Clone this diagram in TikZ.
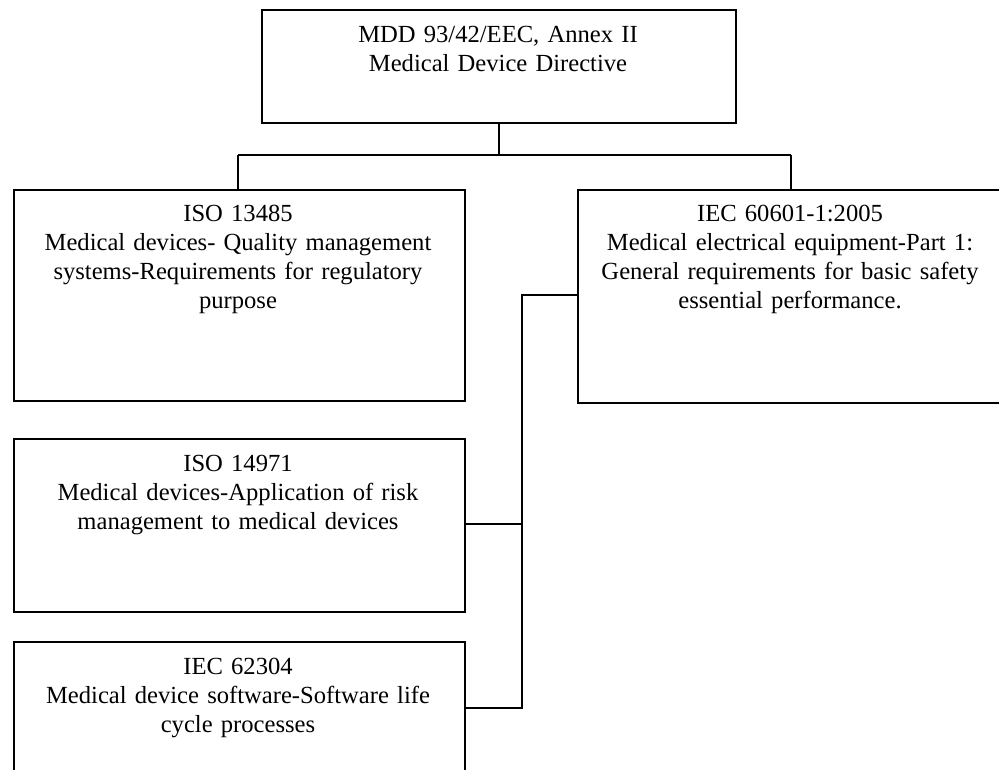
\documentclass[tikz,border=0pt]{standalone}
\usepackage{fontspec}
\setmainfont{Liberation Serif}
\begin{document}
\begin{tikzpicture}[x=1pt,y=-1pt,
  box/.style={draw=black,line width=1.8pt,rectangle,inner sep=0pt,anchor=north west},
  lbl/.style={font=\fontsize{24.6}{29}\selectfont,align=center,text width=440pt,inner sep=0pt,anchor=base},
  conn/.style={draw=black,line width=1.8pt}]
\useasboundingbox (0,0) rectangle (999,770);
\clip (0,0) rectangle (999,770);
% boxes
\node[box,minimum width=474pt,minimum height=113pt] (top) at (261,9) {};
\node[box,minimum width=451pt,minimum height=211pt] (iso13485) at (13,189) {};
\node[box,minimum width=428pt,minimum height=213pt] (iec60601) at (577,189) {};
\node[box,minimum width=451pt,minimum height=173pt] (iso14971) at (13,438) {};
\node[box,minimum width=451pt,minimum height=160pt] (iec62304) at (13,641) {};
% labels
\node[lbl] (ttop) at (498,43) {MDD 93/42/EEC, Annex II\\Medical Device Directive};
\node[lbl] (t13485) at (238,222) {ISO 13485\\Medical devices- Quality management\\systems-Requirements for regulatory\\purpose};
\node[lbl] (t60601) at (790,222) {IEC 60601-1:2005\\Medical electrical equipment-Part 1:\\General requirements for basic safety\\essential performance.};
\node[lbl] (t14971) at (238,471) {ISO 14971\\Medical devices-Application of risk\\management to medical devices};
\node[lbl] (t62304) at (238,674) {IEC 62304\\Medical device software-Software life\\cycle processes};
% connector junctions
\coordinate (jl) at (238,155);
\coordinate (jr) at (791,155);
\coordinate (jv) at (522,295);
% connectors
\draw[conn] (top.south) -- (top.south |- jl);
\draw[conn] (jl) -- (jr);
\draw[conn] (jl) -- (jl |- iso13485.north);
\draw[conn] (jr) -- (jr |- iec60601.north);
\draw[conn] (iec60601.west |- jv) -- (jv) -- (jv |- 0,708) -- (iso14971.east |- 0,708);
\draw[conn] (iso14971.east |- 0,524) -- (jv |- 0,524);
\end{tikzpicture}
\end{document}
